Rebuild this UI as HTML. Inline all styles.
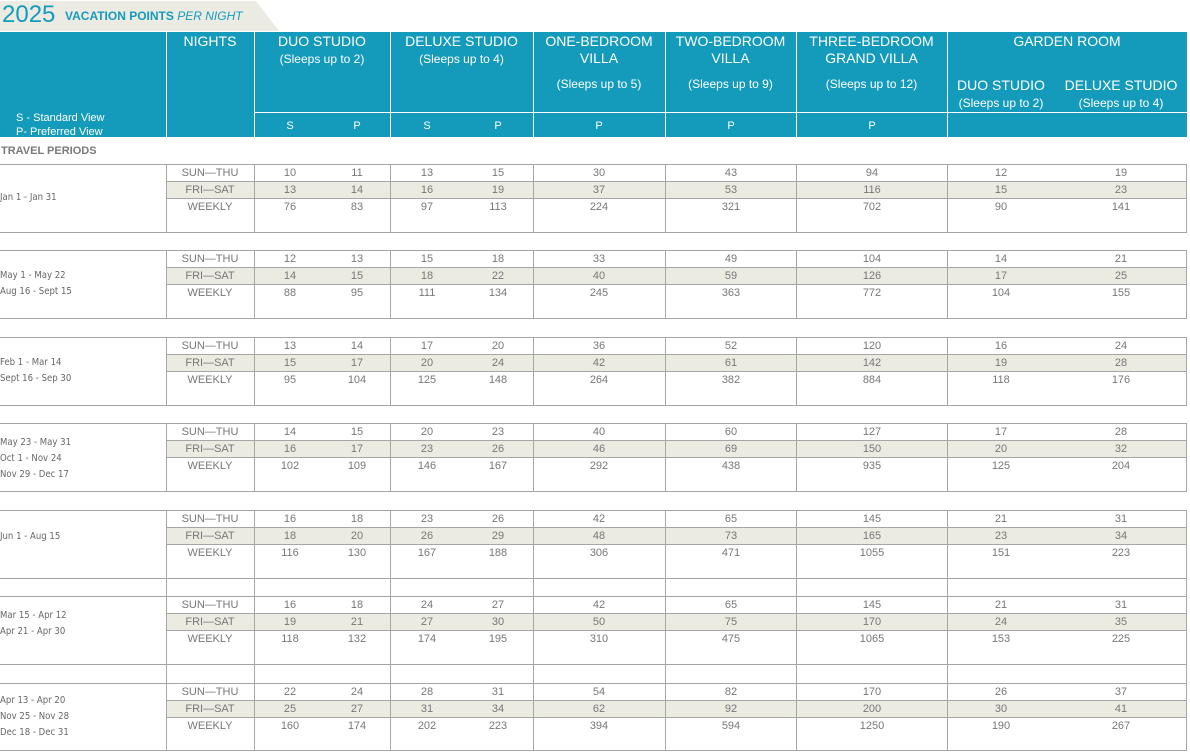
<!DOCTYPE html>
<html><head><meta charset="utf-8"><style>
*{margin:0;padding:0;box-sizing:border-box}
body{width:1190px;height:752px;background:#fff;position:relative;overflow:hidden;font-family:"Liberation Sans",Arial,sans-serif;color:#777}
.a{position:absolute}
.hd{position:absolute;left:0;top:32px;width:1187px;height:105px;background:#149bbb}
.w{position:absolute;color:#fff;text-align:center;white-space:nowrap}
.vl{position:absolute;width:1px;background:#fff}
.g{position:absolute;left:0;width:1190px;height:68px}
.g .hl{position:absolute;height:1px;background:#a6a6a6;right:3px}
.g .v{position:absolute;width:1px;background:#a6a6a6;top:0;height:68px}
.g .sh{position:absolute;left:166px;right:3px;top:17px;height:17px;background:#ecebe2}
.r{position:absolute;left:0;width:1190px;height:17px;font-size:11px;line-height:17px;padding-top:1px}
.r span{position:absolute;width:70px;text-align:center}
.n{left:175px}.c1{left:255px}.c2{left:322px}.c3{left:392px}.c4{left:463px}.c5{left:564px}.c6{left:696px}.c7{left:837px}.c8{left:966px}.c9{left:1086px}
.d{position:absolute;left:0;font-family:"DejaVu Sans Condensed","Liberation Sans Narrow",sans-serif;font-size:9.5px;line-height:16px;color:#666}
.gap{position:absolute;left:0;width:1190px;height:18px}
.gap i{position:absolute;top:0;height:18px;width:1px;background:#a6a6a6}
</style></head><body>
<svg class="a" style="left:0;top:0" width="285" height="32"><polygon points="0,1 256,1 279,31 0,31" fill="#ecebe3"/></svg>
<div class="a" style="left:2px;top:1px;font-size:24px;color:#149bbb;line-height:28px">2025</div>
<div class="a" style="left:65px;top:9px;font-size:12px;color:#149bbb;font-weight:bold;line-height:14px">VACATION POINTS <i style="font-weight:normal">PER NIGHT</i></div>

<div class="hd"></div>
<div class="vl" style="left:166px;top:32px;height:105px"></div>
<div class="vl" style="left:254px;top:32px;height:105px"></div>
<div class="vl" style="left:390px;top:32px;height:105px"></div>
<div class="vl" style="left:533px;top:32px;height:105px"></div>
<div class="vl" style="left:665px;top:32px;height:105px"></div>
<div class="vl" style="left:796px;top:32px;height:105px"></div>
<div class="vl" style="left:947px;top:32px;height:105px"></div>
<div class="a" style="left:254px;top:112px;width:933px;height:1px;background:#fff"></div>
<div class="w" style="left:16px;top:111px;text-align:left;font-size:11px;line-height:14px">S - Standard View<br>P- Preferred View</div>
<div class="w" style="left:166px;width:88px;top:33px;font-size:14px;line-height:17px">NIGHTS</div>
<div class="w" style="left:254px;width:136px;top:33px;font-size:14px;line-height:17px">DUO STUDIO<br><span style="font-size:12px">(Sleeps up to 2)</span></div>
<div class="w" style="left:390px;width:143px;top:33px;font-size:14px;line-height:17px">DELUXE STUDIO<br><span style="font-size:12px">(Sleeps up to 4)</span></div>
<div class="w" style="left:533px;width:132px;top:33px;font-size:14px;line-height:17px">ONE-BEDROOM<br>VILLA</div>
<div class="w" style="left:665px;width:131px;top:33px;font-size:14px;line-height:17px">TWO-BEDROOM<br>VILLA</div>
<div class="w" style="left:796px;width:151px;top:33px;font-size:14px;line-height:17px">THREE-BEDROOM<br>GRAND VILLA</div>
<div class="w" style="left:533px;width:132px;top:77px;font-size:12px">(Sleeps up to 5)</div>
<div class="w" style="left:665px;width:131px;top:77px;font-size:12px">(Sleeps up to 9)</div>
<div class="w" style="left:796px;width:151px;top:77px;font-size:12px">(Sleeps up to 12)</div>
<div class="w" style="left:947px;width:240px;top:33px;font-size:14px;line-height:17px">GARDEN ROOM</div>
<div class="w" style="left:941px;width:120px;top:77px;font-size:14px;line-height:17px">DUO STUDIO<br><span style="font-size:12px">(Sleeps up to 2)</span></div>
<div class="w" style="left:1061px;width:120px;top:77px;font-size:14px;line-height:17px">DELUXE STUDIO<br><span style="font-size:12px">(Sleeps up to 4)</span></div>
<div class="w" style="left:255px;width:70px;top:120px;font-size:11px">S</div>
<div class="w" style="left:322px;width:70px;top:120px;font-size:11px">P</div>
<div class="w" style="left:392px;width:70px;top:120px;font-size:11px">S</div>
<div class="w" style="left:463px;width:70px;top:120px;font-size:11px">P</div>
<div class="w" style="left:564px;width:70px;top:120px;font-size:11px">P</div>
<div class="w" style="left:696px;width:70px;top:120px;font-size:11px">P</div>
<div class="w" style="left:837px;width:70px;top:120px;font-size:11px">P</div>
<div class="a" style="left:1px;top:145px;font-size:11px;font-weight:bold;color:#7a7a7a">TRAVEL PERIODS</div>

<div class="g" style="top:164px">
<div class="sh"></div><div class="hl" style="left:0;top:0"></div><div class="hl" style="left:166px;top:17px"></div><div class="hl" style="left:166px;top:34px"></div><div class="hl" style="left:0;top:68px"></div>
<div class="v" style="left:166px"></div><div class="v" style="left:254px"></div><div class="v" style="left:390px"></div><div class="v" style="left:533px"></div><div class="v" style="left:665px"></div><div class="v" style="left:796px"></div><div class="v" style="left:947px"></div><div class="v" style="left:1186px"></div>
<div class="d" style="top:26px">Jan 1 - Jan 31</div>
<div class="r" style="top:0"><span class="n">SUN—THU</span><span class="c1">10</span><span class="c2">11</span><span class="c3">13</span><span class="c4">15</span><span class="c5">30</span><span class="c6">43</span><span class="c7">94</span><span class="c8">12</span><span class="c9">19</span></div>
<div class="r" style="top:17px"><span class="n">FRI—SAT</span><span class="c1">13</span><span class="c2">14</span><span class="c3">16</span><span class="c4">19</span><span class="c5">37</span><span class="c6">53</span><span class="c7">116</span><span class="c8">15</span><span class="c9">23</span></div>
<div class="r" style="top:34px"><span class="n">WEEKLY</span><span class="c1">76</span><span class="c2">83</span><span class="c3">97</span><span class="c4">113</span><span class="c5">224</span><span class="c6">321</span><span class="c7">702</span><span class="c8">90</span><span class="c9">141</span></div>
</div>

<div class="g" style="top:250px">
<div class="sh"></div><div class="hl" style="left:0;top:0"></div><div class="hl" style="left:166px;top:17px"></div><div class="hl" style="left:166px;top:34px"></div><div class="hl" style="left:0;top:68px"></div>
<div class="v" style="left:166px"></div><div class="v" style="left:254px"></div><div class="v" style="left:390px"></div><div class="v" style="left:533px"></div><div class="v" style="left:665px"></div><div class="v" style="left:796px"></div><div class="v" style="left:947px"></div><div class="v" style="left:1186px"></div>
<div class="d" style="top:18px">May 1 - May 22<br>Aug 16 - Sept 15</div>
<div class="r" style="top:0"><span class="n">SUN—THU</span><span class="c1">12</span><span class="c2">13</span><span class="c3">15</span><span class="c4">18</span><span class="c5">33</span><span class="c6">49</span><span class="c7">104</span><span class="c8">14</span><span class="c9">21</span></div>
<div class="r" style="top:17px"><span class="n">FRI—SAT</span><span class="c1">14</span><span class="c2">15</span><span class="c3">18</span><span class="c4">22</span><span class="c5">40</span><span class="c6">59</span><span class="c7">126</span><span class="c8">17</span><span class="c9">25</span></div>
<div class="r" style="top:34px"><span class="n">WEEKLY</span><span class="c1">88</span><span class="c2">95</span><span class="c3">111</span><span class="c4">134</span><span class="c5">245</span><span class="c6">363</span><span class="c7">772</span><span class="c8">104</span><span class="c9">155</span></div>
</div>

<div class="g" style="top:337px">
<div class="sh"></div><div class="hl" style="left:0;top:0"></div><div class="hl" style="left:166px;top:17px"></div><div class="hl" style="left:166px;top:34px"></div><div class="hl" style="left:0;top:68px"></div>
<div class="v" style="left:166px"></div><div class="v" style="left:254px"></div><div class="v" style="left:390px"></div><div class="v" style="left:533px"></div><div class="v" style="left:665px"></div><div class="v" style="left:796px"></div><div class="v" style="left:947px"></div><div class="v" style="left:1186px"></div>
<div class="d" style="top:18px">Feb 1 - Mar 14<br>Sept 16 - Sep 30</div>
<div class="r" style="top:0"><span class="n">SUN—THU</span><span class="c1">13</span><span class="c2">14</span><span class="c3">17</span><span class="c4">20</span><span class="c5">36</span><span class="c6">52</span><span class="c7">120</span><span class="c8">16</span><span class="c9">24</span></div>
<div class="r" style="top:17px"><span class="n">FRI—SAT</span><span class="c1">15</span><span class="c2">17</span><span class="c3">20</span><span class="c4">24</span><span class="c5">42</span><span class="c6">61</span><span class="c7">142</span><span class="c8">19</span><span class="c9">28</span></div>
<div class="r" style="top:34px"><span class="n">WEEKLY</span><span class="c1">95</span><span class="c2">104</span><span class="c3">125</span><span class="c4">148</span><span class="c5">264</span><span class="c6">382</span><span class="c7">884</span><span class="c8">118</span><span class="c9">176</span></div>
</div>

<div class="g" style="top:423px">
<div class="sh"></div><div class="hl" style="left:0;top:0"></div><div class="hl" style="left:166px;top:17px"></div><div class="hl" style="left:166px;top:34px"></div><div class="hl" style="left:0;top:68px"></div>
<div class="v" style="left:166px"></div><div class="v" style="left:254px"></div><div class="v" style="left:390px"></div><div class="v" style="left:533px"></div><div class="v" style="left:665px"></div><div class="v" style="left:796px"></div><div class="v" style="left:947px"></div><div class="v" style="left:1186px"></div>
<div class="d" style="top:12px">May 23 - May 31<br>Oct 1 - Nov 24<br>Nov 29 - Dec 17</div>
<div class="r" style="top:0"><span class="n">SUN—THU</span><span class="c1">14</span><span class="c2">15</span><span class="c3">20</span><span class="c4">23</span><span class="c5">40</span><span class="c6">60</span><span class="c7">127</span><span class="c8">17</span><span class="c9">28</span></div>
<div class="r" style="top:17px"><span class="n">FRI—SAT</span><span class="c1">16</span><span class="c2">17</span><span class="c3">23</span><span class="c4">26</span><span class="c5">46</span><span class="c6">69</span><span class="c7">150</span><span class="c8">20</span><span class="c9">32</span></div>
<div class="r" style="top:34px"><span class="n">WEEKLY</span><span class="c1">102</span><span class="c2">109</span><span class="c3">146</span><span class="c4">167</span><span class="c5">292</span><span class="c6">438</span><span class="c7">935</span><span class="c8">125</span><span class="c9">204</span></div>
</div>

<div class="g" style="top:510px">
<div class="sh"></div><div class="hl" style="left:0;top:0"></div><div class="hl" style="left:166px;top:17px"></div><div class="hl" style="left:166px;top:34px"></div><div class="hl" style="left:0;top:68px"></div>
<div class="v" style="left:166px"></div><div class="v" style="left:254px"></div><div class="v" style="left:390px"></div><div class="v" style="left:533px"></div><div class="v" style="left:665px"></div><div class="v" style="left:796px"></div><div class="v" style="left:947px"></div><div class="v" style="left:1186px"></div>
<div class="d" style="top:19px">Jun 1 - Aug 15</div>
<div class="r" style="top:0"><span class="n">SUN—THU</span><span class="c1">16</span><span class="c2">18</span><span class="c3">23</span><span class="c4">26</span><span class="c5">42</span><span class="c6">65</span><span class="c7">145</span><span class="c8">21</span><span class="c9">31</span></div>
<div class="r" style="top:17px"><span class="n">FRI—SAT</span><span class="c1">18</span><span class="c2">20</span><span class="c3">26</span><span class="c4">29</span><span class="c5">48</span><span class="c6">73</span><span class="c7">165</span><span class="c8">23</span><span class="c9">34</span></div>
<div class="r" style="top:34px"><span class="n">WEEKLY</span><span class="c1">116</span><span class="c2">130</span><span class="c3">167</span><span class="c4">188</span><span class="c5">306</span><span class="c6">471</span><span class="c7">1055</span><span class="c8">151</span><span class="c9">223</span></div>
</div>
<div class="gap" style="top:578px"><i style="left:166px"></i><i style="left:254px"></i><i style="left:390px"></i><i style="left:533px"></i><i style="left:665px"></i><i style="left:796px"></i><i style="left:947px"></i><i style="left:1186px"></i></div>

<div class="g" style="top:596px">
<div class="sh"></div><div class="hl" style="left:0;top:0"></div><div class="hl" style="left:166px;top:17px"></div><div class="hl" style="left:166px;top:34px"></div><div class="hl" style="left:0;top:68px"></div>
<div class="v" style="left:166px"></div><div class="v" style="left:254px"></div><div class="v" style="left:390px"></div><div class="v" style="left:533px"></div><div class="v" style="left:665px"></div><div class="v" style="left:796px"></div><div class="v" style="left:947px"></div><div class="v" style="left:1186px"></div>
<div class="d" style="top:12px">Mar 15 - Apr 12<br>Apr 21 - Apr 30</div>
<div class="r" style="top:0"><span class="n">SUN—THU</span><span class="c1">16</span><span class="c2">18</span><span class="c3">24</span><span class="c4">27</span><span class="c5">42</span><span class="c6">65</span><span class="c7">145</span><span class="c8">21</span><span class="c9">31</span></div>
<div class="r" style="top:17px"><span class="n">FRI—SAT</span><span class="c1">19</span><span class="c2">21</span><span class="c3">27</span><span class="c4">30</span><span class="c5">50</span><span class="c6">75</span><span class="c7">170</span><span class="c8">24</span><span class="c9">35</span></div>
<div class="r" style="top:34px"><span class="n">WEEKLY</span><span class="c1">118</span><span class="c2">132</span><span class="c3">174</span><span class="c4">195</span><span class="c5">310</span><span class="c6">475</span><span class="c7">1065</span><span class="c8">153</span><span class="c9">225</span></div>
</div>
<div class="gap" style="top:665px"><i style="left:166px"></i><i style="left:254px"></i><i style="left:390px"></i><i style="left:533px"></i><i style="left:665px"></i><i style="left:796px"></i><i style="left:947px"></i><i style="left:1186px"></i></div>

<div class="g" style="top:683px">
<div class="sh"></div><div class="hl" style="left:0;top:0"></div><div class="hl" style="left:166px;top:17px"></div><div class="hl" style="left:166px;top:34px"></div><div class="hl" style="left:0;top:67px"></div>
<div class="v" style="left:166px"></div><div class="v" style="left:254px"></div><div class="v" style="left:390px"></div><div class="v" style="left:533px"></div><div class="v" style="left:665px"></div><div class="v" style="left:796px"></div><div class="v" style="left:947px"></div><div class="v" style="left:1186px"></div>
<div class="d" style="top:10px">Apr 13 - Apr 20<br>Nov 25 - Nov 28<br>Dec 18 - Dec 31</div>
<div class="r" style="top:0"><span class="n">SUN—THU</span><span class="c1">22</span><span class="c2">24</span><span class="c3">28</span><span class="c4">31</span><span class="c5">54</span><span class="c6">82</span><span class="c7">170</span><span class="c8">26</span><span class="c9">37</span></div>
<div class="r" style="top:17px"><span class="n">FRI—SAT</span><span class="c1">25</span><span class="c2">27</span><span class="c3">31</span><span class="c4">34</span><span class="c5">62</span><span class="c6">92</span><span class="c7">200</span><span class="c8">30</span><span class="c9">41</span></div>
<div class="r" style="top:34px"><span class="n">WEEKLY</span><span class="c1">160</span><span class="c2">174</span><span class="c3">202</span><span class="c4">223</span><span class="c5">394</span><span class="c6">594</span><span class="c7">1250</span><span class="c8">190</span><span class="c9">267</span></div>
</div>
</body></html>
